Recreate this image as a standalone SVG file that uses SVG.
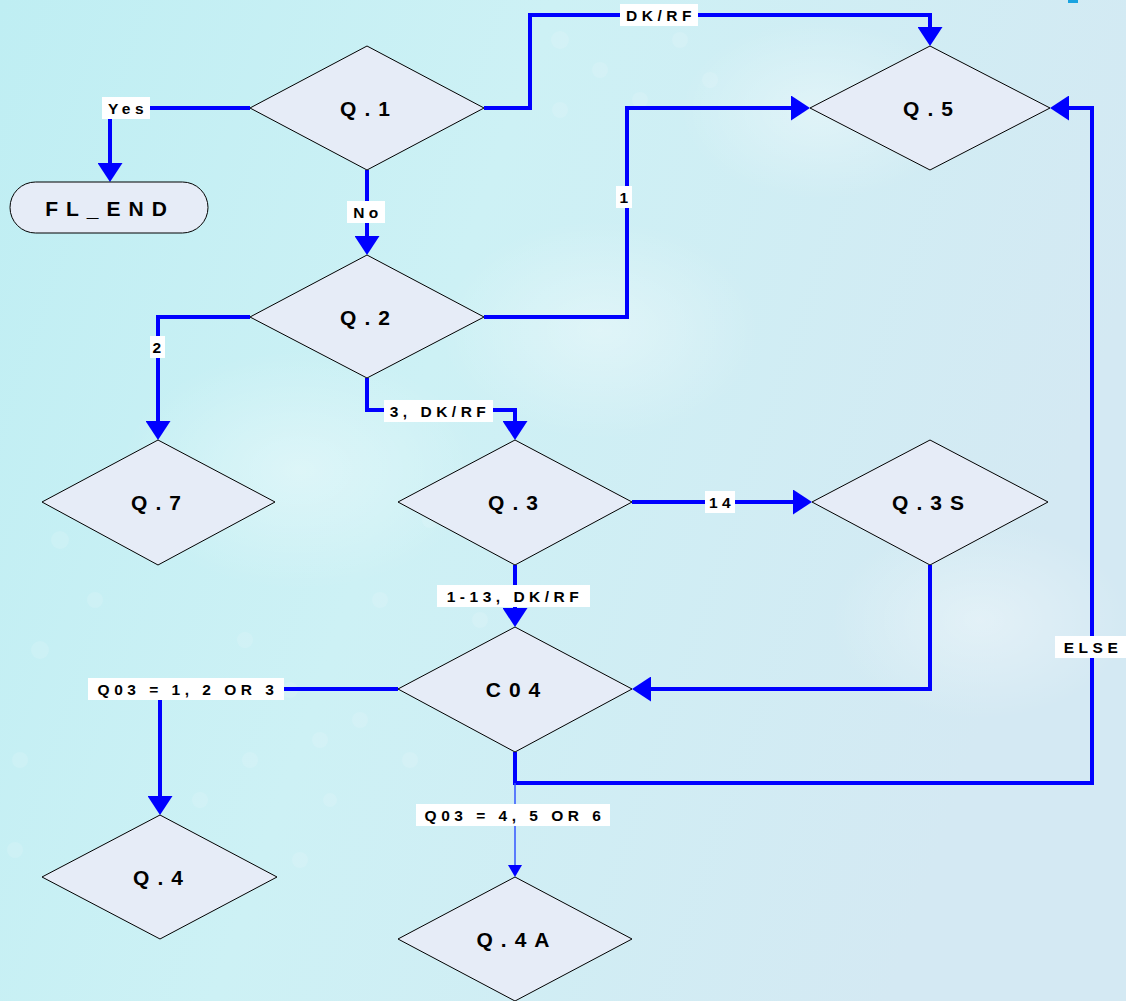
<svg xmlns="http://www.w3.org/2000/svg" width="1126" height="1001" viewBox="0 0 1126 1001">
  <defs>
    <linearGradient id="bg" x1="0" y1="0" x2="1" y2="0.3">
      <stop offset="0" stop-color="#bfeef3"/>
      <stop offset="0.45" stop-color="#cdf1f5"/>
      <stop offset="1" stop-color="#d4e9f3"/>
    </linearGradient>
    <radialGradient id="glow" cx="0.5" cy="0.5" r="0.5">
      <stop offset="0" stop-color="#ffffff" stop-opacity="0.35"/>
      <stop offset="1" stop-color="#ffffff" stop-opacity="0"/>
    </radialGradient>
    <marker id="arr" viewBox="0 0 19 25" markerWidth="19" markerHeight="25" refX="0" refY="12.5" orient="auto" markerUnits="userSpaceOnUse">
      <path d="M0,0 L19,12.5 L0,25 Z" fill="#0000ff"/>
    </marker>
    <marker id="arrSmall" viewBox="0 0 12 14" markerWidth="12" markerHeight="14" refX="0" refY="7" orient="auto" markerUnits="userSpaceOnUse">
      <path d="M0,0 L12,7 L0,14 Z" fill="#0000ff"/>
    </marker>
  </defs>
  <style>
    .node { fill: #e6ecf7; stroke: #000000; stroke-width: 1; }
    .nlabel { font-family: "Liberation Sans", Arial, sans-serif; font-weight: bold; font-size: 21px; letter-spacing: 8px; fill: #000000; text-anchor: middle; dominant-baseline: central; }
    .edge { fill: none; stroke: #0000ff; stroke-width: 4; marker-end: url(#arr); }
    .edge-thin { fill: none; stroke: #3355ff; stroke-width: 1.5; marker-end: url(#arrSmall); }
    .lbox { fill: #ffffff; }
    .elabel { font-family: "Liberation Sans", Arial, sans-serif; font-weight: bold; font-size: 15.5px; letter-spacing: 4.5px; fill: #000000; text-anchor: middle; dominant-baseline: central; }
  </style>

  <!-- background -->
  <rect x="0" y="0" width="1126" height="1001" fill="url(#bg)"/>
  <g fill="url(#glow)">
    <ellipse cx="820" cy="110" rx="140" ry="90"/>
    <ellipse cx="600" cy="330" rx="160" ry="110"/>
    <ellipse cx="300" cy="470" rx="180" ry="120"/>
    <ellipse cx="980" cy="620" rx="150" ry="100"/>
  </g>
  <g fill="#ffffff" opacity="0.12">
    <circle cx="60" cy="540" r="9"/><circle cx="95" cy="600" r="8"/><circle cx="40" cy="650" r="9"/>
    <circle cx="130" cy="540" r="8"/><circle cx="245" cy="640" r="8"/><circle cx="290" cy="690" r="8"/>
    <circle cx="320" cy="740" r="8"/><circle cx="250" cy="760" r="8"/><circle cx="200" cy="800" r="8"/>
    <circle cx="360" cy="720" r="8"/><circle cx="410" cy="760" r="8"/><circle cx="300" cy="860" r="8"/>
    <circle cx="330" cy="800" r="7"/><circle cx="20" cy="760" r="8"/><circle cx="15" cy="850" r="8"/>
    <circle cx="560" cy="40" r="9"/><circle cx="600" cy="70" r="8"/><circle cx="640" cy="100" r="8"/>
    <circle cx="680" cy="40" r="8"/><circle cx="710" cy="80" r="8"/><circle cx="560" cy="110" r="8"/>
    <circle cx="430" cy="520" r="8"/><circle cx="480" cy="620" r="8"/><circle cx="380" cy="600" r="8"/>
  </g>
  <rect x="1068" y="0" width="10" height="3" fill="#1aa3e0"/>

  <!-- connectors -->
  <g id="connectors">
    <path class="edge" d="M250,108 H110 V163"/>
    <path class="edge" d="M367,170 V236"/>
    <path class="edge" d="M484,108 H530 V15 H930 V27"/>
    <path class="edge" d="M484,317 H627 V108 H791"/>
    <path class="edge" d="M250,317 H158 V421"/>
    <path class="edge" d="M367,378 V410 H515 V421"/>
    <path class="edge" d="M632,502 H793"/>
    <path class="edge" d="M515,565 V608"/>
    <path class="edge" d="M930,565 V689 H651"/>
    <path class="edge" d="M398,689 H160 V796"/>
    <path class="edge" d="M515,752 V783 H1092 V108 H1069"/>
    <path class="edge-thin" d="M515,783 V865"/>

    <g id="edge-labels">
      <rect class="lbox" x="102" y="97" width="48" height="22"/>
      <text class="elabel" x="128" y="108">Yes</text>
      <rect class="lbox" x="347" y="201" width="38" height="22"/>
      <text class="elabel" x="368" y="212">No</text>
      <rect class="lbox" x="620" y="4" width="78" height="22"/>
      <text class="elabel" x="661" y="15">DK/RF</text>
      <rect class="lbox" x="616" y="186" width="16" height="22"/>
      <text class="elabel" x="626" y="197">1</text>
      <rect class="lbox" x="150" y="336" width="15" height="22"/>
      <text class="elabel" x="159" y="347">2</text>
      <rect class="lbox" x="384" y="400" width="109" height="22"/>
      <text class="elabel" x="440" y="411">3, DK/RF</text>
      <rect class="lbox" x="705" y="491" width="30" height="22"/>
      <text class="elabel" x="722" y="502">14</text>
      <rect class="lbox" x="437" y="585" width="153" height="22"/>
      <text class="elabel" x="515" y="596">1-13, DK/RF</text>
      <rect class="lbox" x="88" y="678" width="196" height="22"/>
      <text class="elabel" x="188" y="689">Q03 = 1, 2 OR 3</text>
      <rect class="lbox" x="1055" y="636" width="71" height="22"/>
      <text class="elabel" x="1093" y="647">ELSE</text>
      <rect class="lbox" x="416" y="804" width="194" height="22"/>
      <text class="elabel" x="515" y="815">Q03 = 4, 5 OR 6</text>
    </g>
  </g>

  <!-- nodes -->
  <g id="node-q1">
    <polygon class="node" points="250,108 367,46 484,108 367,170"/>
    <text class="nlabel" x="369" y="108">Q.1</text>
  </g>
  <g id="node-fl-end">
    <rect class="node" x="10" y="182" width="198" height="51" rx="25.5" ry="25.5"/>
    <text class="nlabel" x="110" y="208">FL_END</text>
  </g>
  <g id="node-q5">
    <polygon class="node" points="810,108 930,46 1050,108 930,170"/>
    <text class="nlabel" x="932" y="108">Q.5</text>
  </g>
  <g id="node-q2">
    <polygon class="node" points="250,317 367,255 484,317 367,378"/>
    <text class="nlabel" x="369" y="317">Q.2</text>
  </g>
  <g id="node-q7">
    <polygon class="node" points="42,502 158,440 275,502 158,565"/>
    <text class="nlabel" x="160" y="502">Q.7</text>
  </g>
  <g id="node-q3">
    <polygon class="node" points="398,502 515,440 632,502 515,565"/>
    <text class="nlabel" x="517" y="502">Q.3</text>
  </g>
  <g id="node-q3s">
    <polygon class="node" points="812,502 930,440 1048,502 930,565"/>
    <text class="nlabel" x="932" y="502">Q.3S</text>
  </g>
  <g id="node-c04">
    <polygon class="node" points="398,689 515,627 632,689 515,752"/>
    <text class="nlabel" x="517" y="689">C04</text>
  </g>
  <g id="node-q4">
    <polygon class="node" points="42,877 160,815 277,877 160,939"/>
    <text class="nlabel" x="162" y="877">Q.4</text>
  </g>
  <g id="node-q4a">
    <polygon class="node" points="398,939 515,877 632,939 515,1001"/>
    <text class="nlabel" x="517" y="939">Q.4A</text>
  </g>
</svg>
